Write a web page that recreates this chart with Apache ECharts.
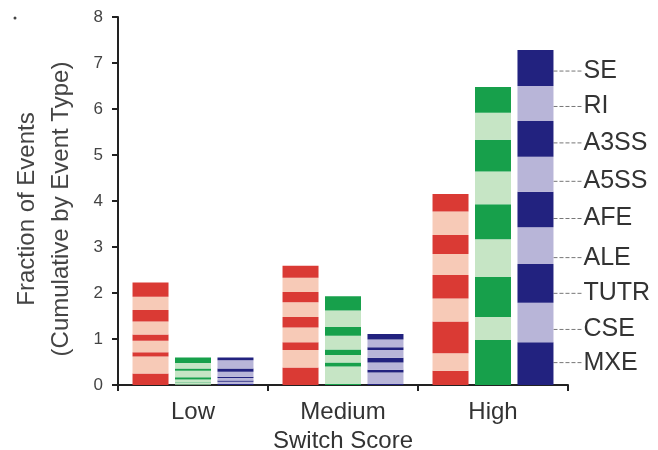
<!DOCTYPE html>
<html>
<head>
<meta charset="utf-8">
<script src="https://cdn.jsdelivr.net/npm/echarts@6/dist/echarts.min.js"></script>
<style>
html,body{margin:0;padding:0;background:#fff;}
#chart{width:658px;height:450px;}
</style>
</head>
<body>
<div id="chart"></div>
<script>
// Data (segment order bottom to top)
const categories = ['Low', 'Medium', 'High'];
const eventTypes = ['MXE', 'CSE', 'TUTR', 'ALE', 'AFE', 'A5SS', 'A3SS', 'RI', 'SE'];
const yTicks = [0, 1, 2, 3, 4, 5, 6, 7, 8];

const redLow      = [0.25, 0.37, 0.09, 0.25, 0.14, 0.28, 0.25, 0.29, 0.31];
const redMedium   = [0.38, 0.38, 0.17, 0.32, 0.23, 0.32, 0.22, 0.31, 0.26];
const redHigh     = [0.31, 0.38, 0.69, 0.50, 0.51, 0.46, 0.41, 0.51, 0.38];

const greenLow    = [0.01, 0.04, 0.01, 0.06, 0.05, 0.14, 0.05, 0.12, 0.12];
const greenMedium = [0.02, 0.38, 0.09, 0.16, 0.12, 0.30, 0.19, 0.36, 0.31];
const greenHigh   = [0.98, 0.50, 0.87, 0.82, 0.76, 0.71, 0.69, 0.59, 0.56];

const blueLow     = [0.02, 0.05, 0.03, 0.05, 0.03, 0.11, 0.07, 0.18, 0.06];
const blueMedium  = [0.02, 0.25, 0.06, 0.16, 0.10, 0.17, 0.06, 0.17, 0.12];
const blueHigh    = [0.93, 0.86, 0.84, 0.80, 0.77, 0.76, 0.78, 0.76, 0.78];

// Styles
const FONT = '"Liberation Sans", Arial, sans-serif';
const palettes = {
  red:   { dark: '#da3a34', light: '#f7cab7' },
  green: { dark: '#17a04b', light: '#c6e5c5' },
  blue:  { dark: '#22227f', light: '#b8b5d8' }
};
const labelNudge = [-1, 7, 10, 12, 9, 7, 4, 3, 3]; // vertical spread of event labels

const groups = [
  { key: 'red',   low: redLow,   medium: redMedium,   high: redHigh },
  { key: 'green', low: greenLow, medium: greenMedium, high: greenHigh },
  { key: 'blue',  low: blueLow,  medium: blueMedium,  high: blueHigh }
];

const series = [];
groups.forEach(function (g) {
  eventTypes.forEach(function (et, i) {
    const isBlue = g.key === 'blue';
    const color = (i % 2 === 0) ? palettes[g.key].dark : palettes[g.key].light;
    const highItem = isBlue ? { value: g.high[i], label: { show: true } } : g.high[i];
    const s = {
      name: et,
      type: 'bar',
      stack: g.key,
      barWidth: 36,
      barGap: '18%',
      itemStyle: { color: color },
      emphasis: { disabled: true },
      data: [g.low[i], g.medium[i], highItem],
      label: {
        show: false,
        position: 'right',
        distance: 2,
        formatter: '{a}',
        fontFamily: FONT,
        fontSize: 25,
        color: '#333'
      }
    };
    if (isBlue) {
      s.labelLine = { show: true, lineStyle: { type: 'dashed', color: '#777', width: 1 } };
      s.labelLayout = (function (idx) {
        return function () { return { dx: 28, dy: labelNudge[idx] }; };
      })(i);
    }
    series.push(s);
  });
});

const chart = echarts.init(document.getElementById('chart'), null, { renderer: 'canvas' });
chart.setOption({
  animation: false,
  backgroundColor: '#fff',
  grid: { left: 118, right: 90, top: 17, bottom: 65, containLabel: false, outerBoundsMode: 'none' },
  xAxis: {
    type: 'category',
    data: categories,
    name: 'Switch Score',
    nameLocation: 'middle',
    nameGap: 28,
    nameTextStyle: { fontFamily: FONT, fontSize: 24, color: '#333' },
    axisLine: { lineStyle: { color: '#222', width: 2 } },
    axisTick: { show: true, length: 6, lineStyle: { color: '#222', width: 2 } },
    axisLabel: { fontFamily: FONT, fontSize: 24, color: '#333', margin: 15 }
  },
  yAxis: {
    type: 'value',
    min: 0,
    max: 8,
    interval: 1,
    name: 'Fraction of Events\n(Cumulative by Event Type)',
    nameLocation: 'middle',
    nameGap: 40,
    nameTextStyle: { fontFamily: FONT, fontSize: 24, color: '#444', lineHeight: 34, padding: [0, 16, 0, 0] },
    axisLine: { show: true, lineStyle: { color: '#222', width: 2 } },
    axisTick: { show: true, length: 6, lineStyle: { color: '#222', width: 2 } },
    axisLabel: {
      fontFamily: FONT, fontSize: 17, color: '#444', margin: 15,
      formatter: function (v) { return yTicks.indexOf(v) >= 0 ? String(v) : ''; }
    },
    splitLine: { show: false }
  },
  graphic: [
    { type: 'circle', shape: { cx: 15, cy: 18, r: 1.5 }, style: { fill: '#444' } }
  ],
  series: series
});
</script>
</body>
</html>
